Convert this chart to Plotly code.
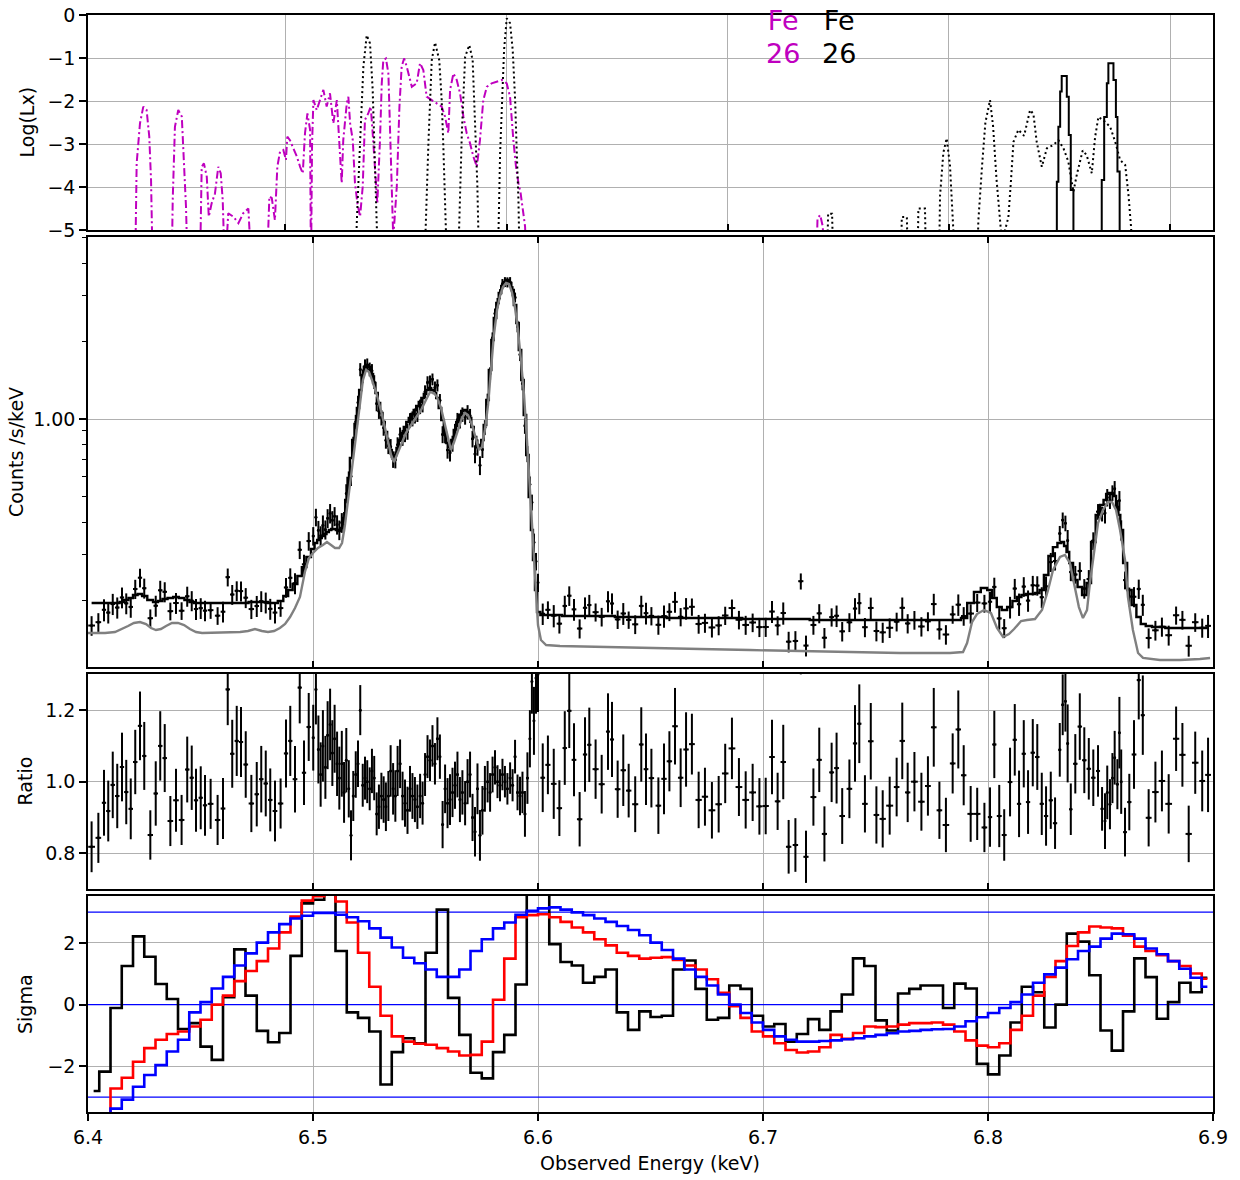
import numpy as np
import plotly.graph_objects as go

# ---------------- Panel 1: line luminosities, rest-frame energy (keV) vs log(Lx) ----------------
MAG_E = [6.5321, 6.5328, 6.5343, 6.5358, 6.5373, 6.5385, 6.5393, 6.5401,
         6.5486, 6.5491, 6.5501, 6.5516, 6.5532, 6.5542, 6.5551, 6.5559,
         6.5614, 6.5622, 6.5632, 6.5645, 6.5654, 6.5667, 6.5682, 6.5697, 6.5708, 6.5717, 6.5727,
         6.5742, 6.5765, 6.5788, 6.5810, 6.5833, 6.5848,
         6.5916, 6.5928, 6.5939, 6.5953, 6.5964, 6.5976, 6.5991, 6.6003, 6.6009, 6.6021, 6.6033,
         6.6052, 6.6067, 6.6079, 6.6089, 6.6100, 6.6112, 6.6116, 6.6121,
         6.6127, 6.6142, 6.6157, 6.6172, 6.6187, 6.6202, 6.6217, 6.6233, 6.6247, 6.6255, 6.6262,
         6.6278, 6.6285, 6.6293, 6.6305,
         6.6315, 6.6326, 6.6338, 6.6350, 6.6360, 6.6375, 6.6386, 6.6395, 6.6406, 6.6416,
         6.6428, 6.6436, 6.6443, 6.6455, 6.6466, 6.6473, 6.6481, 6.6488,
         6.6504, 6.6516, 6.6526, 6.6537, 6.6549, 6.6572, 6.6594, 6.6609, 6.6624, 6.6639, 6.6662,
         6.6685, 6.6707, 6.6722, 6.6737,
         6.6745, 6.6760, 6.6775, 6.6790, 6.6805, 6.6820, 6.6835, 6.6850, 6.6866, 6.6880, 6.6895,
         6.6911, 6.6933, 6.6956, 6.6979, 6.7001, 6.7016, 6.7031, 6.7043, 6.7054, 6.7064, 6.7076,
         6.7084, 6.7091,
         6.8400, 6.8406, 6.8418, 6.8430, 6.8436]
MAG_LOG = [-6, -3.45, -2.52, -2.13, -2.21, -2.83, -3.84, -6,
           -6, -4.30, -2.60, -2.21, -2.36, -3.37, -4.46, -6,
           -6, -3.53, -3.45, -3.76, -4.69, -4.38, -4.15, -3.53, -3.68, -4.30, -6,
           -4.61, -4.69, -4.84, -4.61, -4.50, -6,
           -6, -4.22, -4.26, -4.77, -3.53, -3.18, -3.14, -3.37, -2.83, -2.91, -3.06,
           -3.29, -3.53, -3.68, -2.75, -2.29, -2.67, -6, -3.0,
           -1.98, -2.21, -1.98, -1.74, -2.13, -1.82, -2.52, -1.98, -3.22, -3.91, -2.91,
           -2.05, -1.90, -2.52, -2.91,
           -3.91, -4.38, -4.69, -3.99, -2.44, -2.29, -2.13, -2.75, -3.76, -4.38,
           -2.91, -1.59, -1.05, -1.01, -1.36, -2.75, -4.38, -5.2,
           -3.99, -2.13, -1.20, -1.01, -1.20, -1.67, -1.59, -1.12, -1.28, -1.90, -1.98,
           -2.05, -2.13, -2.36, -2.75,
           -1.74, -1.36, -1.51, -1.82, -2.36, -2.75, -2.98, -3.29, -3.53, -2.91, -1.98,
           -1.67, -1.59, -1.55, -1.51, -1.59, -1.90, -2.91, -3.53, -3.91, -4.15, -4.61,
           -4.92, -6,
           -6, -4.73, -4.65, -4.92, -6]

DOT_E = [6.6318, 6.6323, 6.6338, 6.6353, 6.6368, 6.6383, 6.6395, 6.6406, 6.6416, 6.6420,
         6.6628, 6.6635, 6.6647, 6.6662, 6.6677, 6.6696, 6.6707, 6.6714, 6.6725, 6.6732,
         6.6780, 6.6798, 6.6813, 6.6832, 6.6847, 6.6858, 6.6868, 6.6877,
         6.6960, 6.6971, 6.6981, 6.6989, 6.7001, 6.7016, 6.7028, 6.7039, 6.7046, 6.7054, 6.7060,
         6.8448, 6.8454, 6.8472, 6.8478,
         6.8783, 6.8787, 6.8810, 6.8815,
         6.8858, 6.8862, 6.8892, 6.8897,
         6.8955, 6.8960, 6.8975, 6.8990, 6.9005, 6.9020, 6.9025,
         6.9128, 6.9133, 6.9150, 6.9165, 6.9186, 6.9200, 6.9215, 6.9231, 6.9240, 6.9254,
         6.9269, 6.9280, 6.9292, 6.9314, 6.9340, 6.9367, 6.9382, 6.9397, 6.9420, 6.9443,
         6.9473, 6.9495, 6.9518, 6.9540, 6.9563, 6.9578, 6.9605, 6.9623, 6.9646, 6.9661,
         6.9676, 6.9699, 6.9729, 6.9752, 6.9774, 6.9797, 6.9812, 6.9824, 6.9830]
DOT_LOG = [-6, -4.84, -2.98, -1.20, -0.47, -0.66, -1.74, -3.53, -5.0, -6,
           -6, -4.8, -2.98, -1.05, -0.64, -1.05, -1.98, -2.98, -4.30, -6,
           -6, -2.75, -0.97, -0.70, -1.05, -2.37, -3.92, -6,
           -6, -3.22, -1.59, -0.81, -0.08, -0.19, -0.81, -1.98, -3.14, -4.30, -6,
           -6, -4.62, -4.62, -6,
           -6, -4.70, -4.70, -6,
           -6, -4.50, -4.50, -6,
           -6, -4.2, -3.2, -2.87, -3.5, -5.0, -6,
           -6, -4.8, -3.5, -2.5, -1.98, -2.6, -3.8, -4.9, -5.3, -5.0,
           -4.7, -3.9, -2.95, -2.67, -2.81, -2.21, -2.30, -2.95, -3.53, -3.10,
           -3.02, -2.91, -3.10, -3.41, -4.11, -3.72, -3.15, -3.26, -3.68, -2.84,
           -2.37, -2.45, -2.60, -2.95, -3.37, -3.49, -4.19, -4.96, -6]

SOL_E = [6.9480, 6.9488, 6.9495, 6.9503, 6.9510, 6.9533, 6.9542, 6.9551, 6.9563, 6.9570,
         6.9686, 6.9691, 6.9702, 6.9714, 6.9721, 6.9744, 6.9755, 6.9762, 6.9772, 6.9777]
SOL_LOG = [-6, -3.88, -2.60, -1.78, -1.42, -1.90, -2.79, -4.07, -6, -6,
           -6, -3.84, -2.37, -1.59, -1.12, -1.51, -2.37, -3.64, -6, -6]

# ---------------- Panels 2/3: spectral bins (observed keV), data/model ratio, model ----------------
E_A = [6.4016, 6.4046, 6.4071, 6.4090, 6.4110, 6.4130, 6.4151, 6.4170, 6.4190, 6.4210,
       6.4231, 6.4250, 6.4277, 6.4301, 6.4321, 6.4341, 6.4366, 6.4391, 6.4416, 6.4441,
       6.4461, 6.4480, 6.4501, 6.4520, 6.4545, 6.4576, 6.4600, 6.4621, 6.4641, 6.4661,
       6.4680, 6.4701, 6.4726, 6.4750, 6.4770, 6.4790, 6.4810, 6.4831, 6.4856, 6.4880,
       6.4899, 6.4920, 6.4941, 6.4960, 6.4981, 6.5001, 6.5013]
R_A = [0.818, 0.843, 0.941, 0.918, 0.991, 0.960, 1.041, 0.971, 0.924, 1.055,
       1.156, 1.072, 0.851, 0.967, 1.100, 1.066, 0.890, 0.948, 0.893, 1.034,
       1.011, 0.948, 0.955, 0.934, 0.938, 0.893, 0.925, 1.258, 1.078, 1.114,
       1.111, 1.048, 0.939, 0.965, 1.007, 0.995, 0.949, 0.918, 0.939, 1.079,
       1.114, 1.007, 1.263, 1.025, 1.153, 1.123, 1.258]
DR_A = [0.071, 0.070, 0.092, 0.085, 0.093, 0.090, 0.096, 0.090, 0.085, 0.090,
        0.096, 0.095, 0.069, 0.090, 0.097, 0.095, 0.070, 0.088, 0.070, 0.092,
        0.090, 0.088, 0.088, 0.085, 0.070, 0.070, 0.085, 0.100, 0.095, 0.098,
        0.098, 0.093, 0.080, 0.090, 0.093, 0.092, 0.088, 0.085, 0.070, 0.095,
        0.098, 0.093, 0.100, 0.090, 0.095, 0.092, 0.098]
M_A = [0.1949, 0.1949, 0.1949, 0.1949, 0.1949, 0.1949, 0.1966, 0.2000, 0.2036, 0.2091,
       0.2110, 0.2073, 0.2000, 0.1966, 0.1983, 0.2018, 0.2036, 0.2055, 0.2036, 0.2000,
       0.1966, 0.1949, 0.1949, 0.1949, 0.1949, 0.1949, 0.1949, 0.1949, 0.1949, 0.1949,
       0.1949, 0.1949, 0.1966, 0.1966, 0.1966, 0.1966, 0.1949, 0.1949, 0.1983, 0.2073,
       0.2187, 0.2306, 0.2475, 0.2680, 0.2931, 0.3148, 0.3320]

E_B = [6.5024, 6.5034, 6.5044, 6.5055, 6.5065, 6.5076, 6.5086, 6.5096, 6.5107, 6.5117,
       6.5128, 6.5138, 6.5148, 6.5159, 6.5169, 6.5179, 6.5190, 6.5200, 6.5210, 6.5221,
       6.5231, 6.5241, 6.5252, 6.5262, 6.5272, 6.5283, 6.5293, 6.5304, 6.5314, 6.5324,
       6.5335, 6.5345, 6.5356, 6.5366, 6.5376, 6.5387, 6.5398, 6.5409, 6.5420, 6.5431,
       6.5442, 6.5453, 6.5464, 6.5476, 6.5487, 6.5498, 6.5509, 6.5520, 6.5531, 6.5542,
       6.5553, 6.5564, 6.5576, 6.5587, 6.5598, 6.5609, 6.5620, 6.5631, 6.5642, 6.5653,
       6.5664, 6.5676, 6.5687, 6.5698, 6.5709, 6.5720, 6.5731, 6.5742, 6.5753, 6.5764,
       6.5776, 6.5787, 6.5798, 6.5809, 6.5820, 6.5831, 6.5842, 6.5853, 6.5864, 6.5876,
       6.5887, 6.5898, 6.5909, 6.5920, 6.5931, 6.5942, 6.5953, 6.5964, 6.5973, 6.5982,
       6.5991, 6.6000]
R_B = [1.09, 1.02, 1.10, 1.04, 1.13, 1.16, 1.08, 1.12, 1.05, 1.01,
       1.05, 0.97, 1.06, 0.98, 0.85, 0.96, 1.02, 1.05, 1.20, 0.99,
       1.01, 1.00, 0.98, 1.03, 1.01, 0.91, 0.93, 0.96, 0.95, 0.93,
       0.96, 1.03, 0.98, 0.96, 1.03, 1.05, 0.96, 0.94, 0.92, 0.98,
       0.96, 0.95, 0.93, 0.96, 0.94, 1.02, 1.07, 1.06, 1.10, 1.05,
       1.12, 1.07, 0.88, 0.98, 0.94, 0.95, 0.97, 0.99, 1.02, 0.95,
       0.97, 0.94, 1.00, 1.02, 0.90, 0.86, 0.98, 0.85, 0.92, 0.98,
       1.00, 0.97, 1.02, 1.04, 1.00, 0.99, 1.02, 1.00, 0.98, 1.01,
       0.99, 1.07, 0.97, 0.96, 0.97, 0.91, 1.01, 1.12, 1.28, 1.17,
       1.29, 1.30]
DR_B = [0.095, 0.090, 0.100, 0.088, 0.095, 0.100, 0.092, 0.095, 0.090, 0.088,
        0.092, 0.085, 0.090, 0.080, 0.070, 0.070, 0.065, 0.065, 0.070, 0.060,
        0.060, 0.060, 0.060, 0.062, 0.062, 0.060, 0.062, 0.065, 0.065, 0.068,
        0.070, 0.072, 0.072, 0.072, 0.070, 0.068, 0.068, 0.066, 0.066, 0.064,
        0.064, 0.063, 0.062, 0.062, 0.060, 0.060, 0.060, 0.058, 0.058, 0.058,
        0.060, 0.062, 0.066, 0.068, 0.070, 0.071, 0.069, 0.066, 0.064, 0.063,
        0.062, 0.062, 0.063, 0.064, 0.066, 0.069, 0.071, 0.071, 0.068, 0.064,
        0.058, 0.054, 0.050, 0.048, 0.046, 0.045, 0.044, 0.044, 0.044, 0.044,
        0.045, 0.047, 0.050, 0.054, 0.058, 0.064, 0.072, 0.080, 0.090, 0.095,
        0.100, 0.105]
M_B = [0.3411, 0.3472, 0.3535, 0.3597, 0.3662, 0.3727, 0.3761, 0.3761, 0.3727, 0.3694,
       0.3794, 0.4148, 0.4869, 0.5920, 0.7068, 0.8296, 0.9565, 1.103, 1.294, 1.479,
       1.588, 1.616, 1.588, 1.492, 1.377, 1.260, 1.153, 1.055, 0.9737, 0.8909,
       0.8224, 0.7592, 0.7132, 0.7261, 0.7727, 0.8296, 0.8830, 0.9314, 0.9737, 1.009,
       1.045, 1.083, 1.122, 1.163, 1.205, 1.249, 1.294, 1.317, 1.294, 1.260,
       1.205, 1.103, 0.9911, 0.8830, 0.8079, 0.7797, 0.8296, 0.9070, 0.9737, 1.036,
       1.074, 1.083, 1.064, 1.009, 0.9314, 0.8522, 0.7936, 0.7797, 0.8296, 0.9480,
       1.184, 1.546, 2.018, 2.455, 2.805, 3.066, 3.262, 3.381, 3.441, 3.350,
       3.148, 2.755, 2.348, 1.847, 1.415, 1.036, 0.7261, 0.4999, 0.3727, 0.2855,
       0.2187, 0.1798]

E_C = [6.6021, 6.6044, 6.6070, 6.6095, 6.6119, 6.6139, 6.6160, 6.6185, 6.6209, 6.6228,
       6.6256, 6.6283, 6.6311, 6.6329, 6.6354, 6.6379, 6.6403, 6.6432, 6.6459, 6.6480,
       6.6504, 6.6535, 6.6560, 6.6584, 6.6609, 6.6634, 6.6658, 6.6684, 6.6714, 6.6742,
       6.6773, 6.6803, 6.6832, 6.6862, 6.6893, 6.6923, 6.6954, 6.6984, 6.7012, 6.7040,
       6.7065, 6.7090, 6.7114, 6.7144, 6.7168, 6.7191, 6.7224, 6.7250, 6.7273, 6.7305,
       6.7327, 6.7352, 6.7384, 6.7409, 6.7428, 6.7453, 6.7479, 6.7504, 6.7532, 6.7563,
       6.7594, 6.7619, 6.7643, 6.7673, 6.7704, 6.7733, 6.7759, 6.7784, 6.7813, 6.7843,
       6.7868, 6.7892, 6.7923, 6.7952, 6.7984, 6.8009, 6.8028, 6.8050, 6.8072, 6.8098,
       6.8119, 6.8138, 6.8159, 6.8178, 6.8199, 6.8219, 6.8239, 6.8258, 6.8279, 6.8298,
       6.8319, 6.8332, 6.8344, 6.8354, 6.8368, 6.8388, 6.8408, 6.8428, 6.8448, 6.8468,
       6.8489, 6.8507, 6.8520, 6.8530, 6.8542, 6.8553, 6.8563, 6.8575, 6.8584, 6.8592,
       6.8609, 6.8628, 6.8649, 6.8670, 6.8688, 6.8714, 6.8744, 6.8773, 6.8803, 6.8836,
       6.8864, 6.8892, 6.8921, 6.8952, 6.8978]
R_C = [1.011, 1.047, 0.994, 0.926, 1.094, 1.198, 1.061, 0.895, 1.076, 1.103,
       1.035, 0.993, 1.140, 1.118, 0.979, 1.032, 0.975, 0.937, 1.104, 1.035,
       1.010, 0.933, 1.008, 1.057, 1.155, 1.011, 1.090, 1.105, 0.949, 0.958,
       0.920, 0.937, 1.023, 1.093, 0.985, 0.949, 0.970, 0.931, 0.932, 1.069,
       0.945, 1.055, 0.818, 0.823, 1.400, 0.790, 0.957, 1.061, 0.854, 1.026,
       1.038, 0.904, 0.980, 1.107, 1.162, 0.938, 1.113, 0.907, 0.896, 0.933,
       0.985, 1.114, 0.970, 1.000, 0.944, 0.988, 1.152, 0.920, 0.879, 1.051,
       1.146, 1.018, 0.910, 0.910, 0.872, 0.901, 1.104, 0.904, 0.851, 0.999,
       1.117, 0.938, 1.078, 0.943, 1.081, 1.069, 0.938, 0.904, 0.948, 0.884,
       1.089, 1.215, 1.225, 1.107, 0.923, 1.050, 1.154, 1.060, 1.036, 1.011,
       1.030, 0.924, 0.890, 0.970, 0.937, 1.010, 1.067, 0.993, 1.137, 1.000,
       0.859, 0.943, 1.076, 1.284, 1.186, 0.899, 0.971, 1.002, 0.938, 1.120,
       1.075, 0.854, 1.053, 1.002, 1.019]
DR_C = [0.096, 0.082, 0.098, 0.078, 0.103, 0.104, 0.102, 0.076, 0.104, 0.104,
        0.083, 0.082, 0.107, 0.105, 0.080, 0.100, 0.075, 0.078, 0.104, 0.100,
        0.082, 0.079, 0.099, 0.084, 0.107, 0.082, 0.104, 0.085, 0.079, 0.081,
        0.079, 0.079, 0.083, 0.086, 0.081, 0.080, 0.080, 0.079, 0.079, 0.104,
        0.080, 0.104, 0.075, 0.075, 0.100, 0.073, 0.080, 0.090, 0.077, 0.083,
        0.099, 0.078, 0.082, 0.107, 0.110, 0.080, 0.107, 0.080, 0.080, 0.081,
        0.082, 0.107, 0.083, 0.083, 0.081, 0.083, 0.110, 0.080, 0.076, 0.084,
        0.109, 0.084, 0.078, 0.073, 0.069, 0.083, 0.094, 0.087, 0.072, 0.096,
        0.100, 0.093, 0.094, 0.089, 0.094, 0.092, 0.087, 0.083, 0.080, 0.072,
        0.075, 0.085, 0.085, 0.109, 0.072, 0.083, 0.093, 0.092, 0.086, 0.079,
        0.072, 0.061, 0.078, 0.075, 0.070, 0.070, 0.075, 0.070, 0.100, 0.090,
        0.068, 0.079, 0.096, 0.110, 0.111, 0.080, 0.085, 0.085, 0.083, 0.090,
        0.089, 0.079, 0.087, 0.085, 0.104]
M_C = [0.1751, 0.1751, 0.1751, 0.1751, 0.1735, 0.1735, 0.1735, 0.1735, 0.1735, 0.1735,
       0.1735, 0.1735, 0.1735, 0.1735, 0.1720, 0.1720, 0.1720, 0.1720, 0.1720, 0.1720,
       0.1720, 0.1720, 0.1720, 0.1704, 0.1704, 0.1704, 0.1704, 0.1704, 0.1704, 0.1704,
       0.1704, 0.1704, 0.1704, 0.1704, 0.1704, 0.1689, 0.1689, 0.1689, 0.1689, 0.1689,
       0.1689, 0.1689, 0.1689, 0.1689, 0.1689, 0.1689, 0.1675, 0.1675, 0.1675, 0.1675,
       0.1675, 0.1675, 0.1675, 0.1675, 0.1675, 0.1675, 0.1675, 0.1675, 0.1675, 0.1675,
       0.1675, 0.1675, 0.1675, 0.1675, 0.1675, 0.1675, 0.1675, 0.1675, 0.1675, 0.1675,
       0.1675, 0.1704, 0.1949, 0.2148, 0.2226, 0.2187, 0.2036, 0.1879, 0.1830, 0.1879,
       0.1983, 0.2055, 0.2091, 0.2110, 0.2110, 0.2128, 0.2187, 0.2498, 0.2957, 0.3202,
       0.3320, 0.3350, 0.3233, 0.3066, 0.2780, 0.2391, 0.2245, 0.2091, 0.2327, 0.3350,
       0.4260, 0.4659, 0.4869, 0.5134, 0.5184, 0.5134, 0.5044, 0.4575, 0.4260, 0.3727,
       0.2780, 0.2187, 0.1914, 0.1720, 0.1616, 0.1588, 0.1574, 0.1574, 0.1560, 0.1560,
       0.1560, 0.1560, 0.1560, 0.1560, 0.1560]

# second (grey) model component in counts /s/keV
GREY_E = [6.4000, 6.4076, 6.4120, 6.4151, 6.4178, 6.4204, 6.4231, 6.4258, 6.4280, 6.4302,
          6.4324, 6.4347, 6.4373, 6.4400, 6.4427, 6.4453, 6.4480, 6.4507, 6.4676, 6.4711,
          6.4742, 6.4773, 6.4800, 6.4827, 6.4853, 6.4876, 6.4898, 6.4920, 6.4942, 6.4964,
          6.4982, 6.5000, 6.5022, 6.5044, 6.5062, 6.5080, 6.5098, 6.5116, 6.5129, 6.5142,
          6.5156, 6.5169, 6.5182, 6.5196, 6.5209, 6.5222, 6.5236, 6.5249, 6.5262, 6.5284,
          6.5307, 6.5329, 6.5347, 6.5360, 6.5373, 6.5391, 6.5413, 6.5436, 6.5458, 6.5480,
          6.5502, 6.5520, 6.5538, 6.5551, 6.5569, 6.5587, 6.5600, 6.5613, 6.5627, 6.5644,
          6.5662, 6.5676, 6.5689, 6.5707, 6.5724, 6.5738, 6.5751, 6.5764, 6.5778, 6.5791,
          6.5804, 6.5818, 6.5831, 6.5844, 6.5858, 6.5871, 6.5884, 6.5898, 6.5911, 6.5924,
          6.5938, 6.5951, 6.5964, 6.5978, 6.5991, 6.6000, 6.6013, 6.6036, 6.6098, 6.6276,
          6.6498, 6.6720, 6.6942, 6.7164, 6.7387, 6.7609, 6.7831, 6.7889, 6.7907, 6.7929,
          6.7951, 6.7982, 6.8013, 6.8040, 6.8067, 6.8093, 6.8116, 6.8147, 6.8173, 6.8209,
          6.8240, 6.8267, 6.8289, 6.8320, 6.8342, 6.8364, 6.8382, 6.8404, 6.8422, 6.8440,
          6.8453, 6.8467, 6.8489, 6.8511, 6.8533, 6.8551, 6.8569, 6.8587, 6.8609, 6.8622,
          6.8644, 6.8667, 6.8689, 6.8764, 6.8853, 6.8942, 6.8987]
GREY_V = [0.1492, 0.1492, 0.1505, 0.1546, 0.1588, 0.1631, 0.1645, 0.1616, 0.1560, 0.1532,
          0.1546, 0.1588, 0.1631, 0.1631, 0.1602, 0.1546, 0.1505, 0.1492, 0.1505, 0.1519,
          0.1546, 0.1519, 0.1505, 0.1519, 0.1560, 0.1616, 0.1720, 0.1863, 0.2055, 0.2566,
          0.2906, 0.3038, 0.3176, 0.3262, 0.3350, 0.3262, 0.3176, 0.3176, 0.3320, 0.3897,
          0.4869, 0.6076, 0.7592, 0.9480, 1.184, 1.415, 1.546, 1.519, 1.415, 1.238,
          1.036, 0.8522, 0.7261, 0.6823, 0.7261, 0.7936, 0.8830, 0.9480, 1.009, 1.083,
          1.184, 1.271, 1.260, 1.216, 1.103, 0.9480, 0.8296, 0.7592, 0.8150, 0.9070,
          1.009, 1.055, 1.036, 0.9480, 0.8296, 0.7592, 0.7797, 0.9070, 1.133, 1.546,
          2.110, 2.635, 2.985, 3.233, 3.350, 3.320, 3.093, 2.683, 2.206, 1.690,
          1.238, 0.8296, 0.5318, 0.3262, 0.2000, 0.1602, 0.1402, 0.1341, 0.1329, 0.1317,
          0.1305, 0.1294, 0.1282, 0.1271, 0.1260, 0.1249, 0.1249, 0.1260, 0.1365, 0.1645,
          0.1766, 0.1830, 0.1782, 0.1560, 0.1440, 0.1479, 0.1546, 0.1660, 0.1675, 0.1689,
          0.1830, 0.2187, 0.2612, 0.2932, 0.2985, 0.2780, 0.2327, 0.1879, 0.1704, 0.1830,
          0.2327, 0.2855, 0.3967, 0.4452, 0.4781, 0.4781, 0.4452, 0.3727, 0.2855, 0.2055,
          0.1532, 0.1249, 0.1195, 0.1174, 0.1174, 0.1184, 0.1195]

# ---------------- Panel 4: residual significance (0.005 keV bins) ----------------
SIG_E = [6.4025, 6.4075, 6.4125, 6.4175, 6.4225, 6.4275, 6.4325, 6.4375, 6.4425, 6.4475,
         6.4525, 6.4575, 6.4625, 6.4675, 6.4725, 6.4775, 6.4825, 6.4875, 6.4925, 6.4975,
         6.5025, 6.5075, 6.5125, 6.5175, 6.5225, 6.5275, 6.5325, 6.5375, 6.5425, 6.5475,
         6.5525, 6.5575, 6.5625, 6.5675, 6.5725, 6.5775, 6.5825, 6.5875, 6.5925, 6.5975,
         6.6025, 6.6075, 6.6125, 6.6175, 6.6225, 6.6275, 6.6325, 6.6375, 6.6425, 6.6475,
         6.6525, 6.6575, 6.6625, 6.6675, 6.6725, 6.6775, 6.6825, 6.6875, 6.6925, 6.6975,
         6.7025, 6.7075, 6.7125, 6.7175, 6.7225, 6.7275, 6.7325, 6.7375, 6.7425, 6.7475,
         6.7525, 6.7575, 6.7625, 6.7675, 6.7725, 6.7775, 6.7825, 6.7875, 6.7925, 6.7975,
         6.8025, 6.8075, 6.8125, 6.8175, 6.8225, 6.8275, 6.8325, 6.8375, 6.8425, 6.8475,
         6.8525, 6.8575, 6.8625, 6.8675, 6.8725, 6.8775, 6.8825, 6.8875, 6.8925, 6.8975]
SIG_BLACK = [-2.80, -2.17, -0.11, 1.25, 2.21, 1.55, 0.67, 0.18, -0.79, -0.60,
             -1.36, -1.79, 0.24, 1.79, 0.29, -0.85, -1.22, -0.92, 1.58, 3.28,
             3.40, 4.20, 1.74, -0.25, -0.43, -0.87, -2.59, -1.54, -1.09, -1.25,
             1.68, 3.08, 0.22, -0.98, -2.21, -2.39, -1.54, -0.98, 0.65, 3.90,
             3.80, 1.96, 1.38, 1.27, 0.71, 0.90, 1.14, -0.25, -0.82, -0.22,
             -0.40, -0.36, 1.14, 1.43, 0.51, -0.49, -0.43, 0.62, 0.51, -0.36,
             -0.71, -0.63, -1.20, -0.95, -0.47, -0.82, -0.22, 0.33, 1.50, 1.25,
             -0.51, -0.84, 0.36, 0.51, 0.62, 0.62, -0.11, 0.68, 0.52, -1.92,
             -2.26, -1.65, -0.58, 0.58, 0.40, -0.74, 0.00, 2.30, 2.04, 0.95,
             -0.84, -1.49, -0.22, 1.50, 0.89, -0.46, 0.08, 0.71, 0.40, 0.87]
SIG_RED = [-5.0, -4.5, -2.72, -2.37, -1.85, -1.41, -1.14, -0.95, -0.87, -0.71,
           -0.49, 0.00, 0.29, 0.76, 1.09, 1.41, 1.82, 2.34, 2.85, 3.37,
           3.51, 3.70, 3.34, 2.66, 1.68, 0.58, -0.36, -1.03, -1.20, -1.27,
           -1.30, -1.41, -1.52, -1.65, -1.63, -1.20, 0.16, 1.49, 2.83, 2.90,
           2.93, 2.83, 2.68, 2.50, 2.34, 2.12, 1.92, 1.68, 1.58, 1.49,
           1.52, 1.54, 1.45, 1.27, 1.14, 0.82, 0.38, -0.05, -0.43, -0.87,
           -1.03, -1.25, -1.47, -1.55, -1.52, -1.38, -0.98, -1.11, -0.92, -0.71,
           -0.73, -0.71, -0.65, -0.60, -0.60, -0.58, -0.65, -0.87, -1.16, -1.33,
           -1.38, -1.25, -0.82, -0.36, 0.29, 0.90, 1.41, 1.90, 2.34, 2.53,
           2.50, 2.47, 2.23, 1.88, 1.74, 1.60, 1.41, 1.25, 1.01, 0.84]
SIG_BLUE = [-5.5, -5.0, -3.37, -3.08, -2.66, -2.28, -1.96, -1.52, -1.14, -0.25,
            0.08, 0.52, 0.90, 1.27, 1.66, 2.01, 2.34, 2.61, 2.79, 2.88,
            2.97, 2.97, 2.91, 2.83, 2.70, 2.47, 2.17, 1.85, 1.52, 1.34,
            1.14, 0.90, 0.90, 1.14, 1.74, 2.12, 2.47, 2.66, 2.91, 3.04,
            3.12, 3.15, 3.08, 2.99, 2.90, 2.79, 2.68, 2.55, 2.42, 2.25,
            2.01, 1.77, 1.49, 1.14, 0.90, 0.62, 0.33, 0.00, -0.27, -0.58,
            -0.82, -1.03, -1.14, -1.20, -1.20, -1.18, -1.16, -1.12, -1.09, -1.03,
            -0.98, -0.93, -0.87, -0.85, -0.82, -0.80, -0.79, -0.71, -0.54, -0.41,
            -0.27, -0.11, 0.08, 0.33, 0.71, 0.98, 1.20, 1.47, 1.74, 1.88,
            2.14, 2.30, 2.28, 2.14, 1.82, 1.63, 1.41, 1.16, 0.87, 0.58]
SIGMA_LEVELS = [-3, 0, 3]

X_OBS_RANGE = [6.4, 6.9]
X_REST_RANGE = [6.5108, 7.0194]

# ---------------- build arrays ----------------
def trim(*arrs):
    n = min(len(a) for a in arrs)
    return [np.asarray(a[:n], dtype=float) for a in arrs]

E_ALL, R_ALL, DR_ALL, M_ALL = trim(E_A + E_B + E_C, R_A + R_B + R_C,
                                   DR_A + DR_B + DR_C, M_A + M_B + M_C)
COUNTS = M_ALL * R_ALL
COUNTS_ERR = M_ALL * DR_ALL
d = np.diff(E_ALL)
HW = np.empty_like(E_ALL)
HW[0], HW[-1] = d[0] / 2, d[-1] / 2
HW[1:-1] = np.minimum(d[:-1], d[1:]) / 2

mag_e, mag_l = trim(MAG_E, MAG_LOG)
dot_e, dot_l = trim(DOT_E, DOT_LOG)
sol_e, sol_l = trim(SOL_E, SOL_LOG)
grey_e, grey_v = trim(GREY_E, GREY_V)
sig_e, sig_k, sig_r, sig_b = trim(SIG_E, SIG_BLACK, SIG_RED, SIG_BLUE)

MAGENTA = '#bf00bf'
FONT = 'DejaVu Sans'
FS = 19

fig = go.Figure()

# panel 1
fig.add_trace(go.Scatter(x=mag_e, y=mag_l, mode='lines', xaxis='x', yaxis='y',
                         line=dict(color=MAGENTA, width=2, dash='8px,3px,2px,3px')))
fig.add_trace(go.Scatter(x=dot_e, y=dot_l, mode='lines', xaxis='x', yaxis='y',
                         line=dict(color='black', width=2, dash='2px,3px')))
fig.add_trace(go.Scatter(x=sol_e, y=sol_l, mode='lines', xaxis='x', yaxis='y',
                         line=dict(color='black', width=2, shape='hv')))

# panel 2
fig.add_trace(go.Scatter(x=E_ALL, y=COUNTS, mode='markers', xaxis='x2', yaxis='y2',
                         marker=dict(color='black', size=3),
                         error_y=dict(type='data', array=COUNTS_ERR, color='black', thickness=2, width=0),
                         error_x=dict(type='data', array=HW, color='black', thickness=2, width=0)))
fig.add_trace(go.Scatter(x=E_ALL, y=M_ALL, mode='lines', xaxis='x2', yaxis='y2',
                         line=dict(color='black', width=2.4, shape='hvh')))
fig.add_trace(go.Scatter(x=grey_e, y=grey_v, mode='lines', xaxis='x2', yaxis='y2',
                         line=dict(color='#808080', width=2.4)))

# panel 3
fig.add_trace(go.Scatter(x=E_ALL, y=R_ALL, mode='markers', xaxis='x3', yaxis='y3',
                         marker=dict(color='black', size=3),
                         error_y=dict(type='data', array=DR_ALL, color='black', thickness=2, width=0),
                         error_x=dict(type='data', array=HW, color='black', thickness=2, width=0)))

# panel 4: reference sigma levels, then the three residual curves
for lv in SIGMA_LEVELS:
    fig.add_trace(go.Scatter(x=X_OBS_RANGE, y=[lv, lv], mode='lines', xaxis='x4', yaxis='y4',
                             line=dict(color='#0000ff', width=1.2), hoverinfo='skip'))
for vals, col in ((sig_k, 'black'), (sig_r, 'red'), (sig_b, 'blue')):
    fig.add_trace(go.Scatter(x=sig_e, y=vals, mode='lines', xaxis='x4', yaxis='y4',
                             line=dict(color=col, width=2.6, shape='hvh')))

W, H = 1240, 1180
ML, MR, MT, MB = 88, 27, 15, 68
PH = H - MT - MB


def ydom(top_px, bot_px):
    return [(H - MB - bot_px) / PH, (H - MB - top_px) / PH]


def px_x(px):
    return (px - ML) / (W - ML - MR)


def px_y(py):
    return (H - MB - py) / PH


common = dict(showline=True, linecolor='black', linewidth=1.5, mirror=True,
              ticks='outside', tickcolor='black', tickwidth=1.5, ticklen=7,
              showgrid=True, gridcolor='#b0b0b0', gridwidth=1, zeroline=False,
              automargin=False,
              tickfont=dict(family=FONT, size=FS, color='black'))

inner_x = dict(common, ticks='inside', ticklen=6, showticklabels=False)

fig.update_layout(
    width=W, height=H,
    margin=dict(l=ML, r=MR, t=MT, b=MB, pad=0, autoexpand=False),
    paper_bgcolor='white', plot_bgcolor='white',
    showlegend=False,
    font=dict(family=FONT, size=FS, color='black'),
    xaxis=dict(inner_x, anchor='y', domain=[0, 1], range=X_REST_RANGE,
               tickmode='array', tickvals=[6.6, 6.7, 6.8, 6.9, 7.0]),
    yaxis=dict(common, anchor='x', domain=ydom(15, 230), range=[-5, 0],
               tickmode='array', tickvals=[0, -1, -2, -3, -4, -5]),
    xaxis2=dict(inner_x, anchor='y2', domain=[0, 1], range=X_OBS_RANGE, mirror='ticks',
                tickmode='array', tickvals=[6.5, 6.6, 6.7, 6.8]),
    yaxis2=dict(common, anchor='x2', domain=ydom(237, 667), type='log',
                range=[-0.9575, 0.7027], tickmode='array', tickvals=[1], ticktext=['1.00'],
                minor=dict(tickmode='array',
                           tickvals=[0.2, 0.3, 0.4, 0.5, 0.6, 0.7, 0.8, 0.9, 2, 3, 4, 5],
                           ticks='outside', ticklen=4, tickcolor='black', tickwidth=1,
                           showgrid=False)),
    xaxis3=dict(inner_x, anchor='y3', domain=[0, 1], range=X_OBS_RANGE,
                tickmode='array', tickvals=[6.5, 6.6, 6.7, 6.8]),
    yaxis3=dict(common, anchor='x3', domain=ydom(674, 889), range=[0.700, 1.301],
                tickmode='array', tickvals=[0.8, 1.0, 1.2], ticktext=['0.8', '1.0', '1.2']),
    xaxis4=dict(common, anchor='y4', domain=[0, 1], range=X_OBS_RANGE,
                tickmode='array', tickvals=[6.4, 6.5, 6.6, 6.7, 6.8, 6.9],
                ticktext=['6.4', '6.5', '6.6', '6.7', '6.8', '6.9']),
    yaxis4=dict(common, anchor='x4', domain=ydom(896, 1112), range=[-3.48, 3.52],
                tickmode='array', tickvals=[-2, 0, 2]),
)

titles = [("Log(Lx)", 26, 122.5), ("Counts /s/keV", 16, 452),
          ("Ratio", 24, 781.5), ("Sigma", 25, 1004)]
for txt, xp, yp in titles:
    fig.add_annotation(text=txt, xref='paper', yref='paper', x=px_x(xp), y=px_y(yp),
                       textangle=-90, showarrow=False, xanchor='center', yanchor='middle',
                       font=dict(family=FONT, size=FS, color='black'))
fig.add_annotation(text="Observed Energy (keV)", xref='paper', yref='paper',
                   x=px_x(650), y=px_y(1162.5), showarrow=False,
                   xanchor='center', yanchor='middle',
                   font=dict(family=FONT, size=FS, color='black'))

# element labels: stacked symbol / atomic number
LABEL = ('<span style="font-size:27px">Fe</span><br>'
         '<span style="font-size:27px">26</span>')
for xp, col in ((782.5, MAGENTA), (839, 'black')):
    fig.add_annotation(text=LABEL, xref='paper', yref='paper', x=px_x(xp), y=px_y(36.5),
                       showarrow=False, xanchor='center', yanchor='middle', align='center',
                       font=dict(family=FONT, size=25, color=col))

fig.write_html("out.html")
